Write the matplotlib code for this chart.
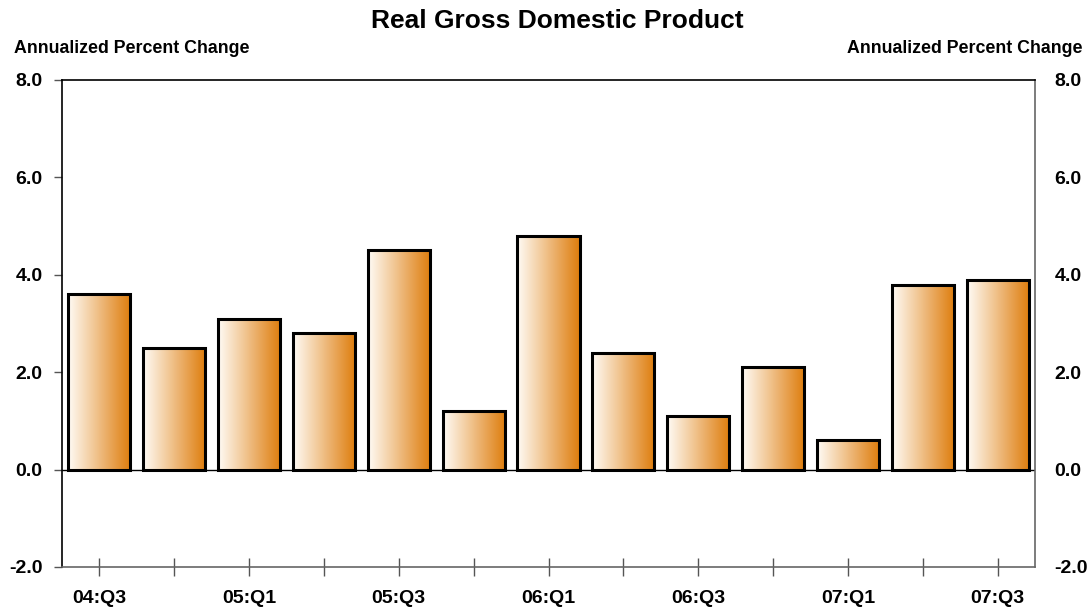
import numpy as np
import matplotlib
matplotlib.use("Agg")
import matplotlib.pyplot as plt
from matplotlib.colors import LinearSegmentedColormap

plt.rcParams['font.family'] = ['Liberation Sans', 'DejaVu Sans']
plt.rcParams['font.weight'] = 'bold'

quarters = ["04:Q3", "04:Q4", "05:Q1", "05:Q2", "05:Q3", "05:Q4", "06:Q1",
            "06:Q2", "06:Q3", "06:Q4", "07:Q1", "07:Q2", "07:Q3"]
gdp_change = [3.6, 2.5, 3.1, 2.8, 4.5, 1.2, 4.8, 2.4, 1.1, 2.1, 0.6, 3.8, 3.9]
y_ticks = [-2.0, 0.0, 2.0, 4.0, 6.0, 8.0]

fig = plt.figure(figsize=(10.91, 6.10), dpi=100)
ax = fig.add_axes([0.0568, 0.0705, 0.8919, 0.7984])

# white-to-orange horizontal fill for each bar
grad = LinearSegmentedColormap.from_list("orange", ["#FFFBF6", "#DE7D0C"])
ramp = np.linspace(0, 1, 256).reshape(1, -1)

x = np.arange(len(quarters))
width = 0.83
bars = ax.bar(x, gdp_change, width=width, facecolor="none", edgecolor="black",
              linewidth=2.2, zorder=3)
for b in bars:
    x0, y0 = b.get_x(), b.get_y()
    w, h = b.get_width(), b.get_height()
    ax.imshow(ramp, cmap=grad, aspect="auto", extent=(x0, x0 + w, y0, y0 + h),
              interpolation="bilinear", zorder=2)

ax.axhline(0, color="black", linewidth=1.0, zorder=1)

ax.set_xlim(-0.5, 12.5)
ax.set_ylim(-2, 8)
ax.set_yticks(y_ticks)
ax.set_yticklabels([f"{v:.1f}" for v in y_ticks], fontsize=14, fontweight="bold")
ax.set_xticks(x)
ax.set_xticklabels([q if i % 2 == 0 else "" for i, q in enumerate(quarters)],
                   fontsize=14, fontweight="bold")

ax.tick_params(axis="x", direction="inout", length=13, width=1, color="#555555", pad=10)
ax.tick_params(axis="y", direction="out", length=6, width=1, color="#555555", pad=8,
               right=False, labelright=True)

for side in ("left", "top"):
    ax.spines[side].set_color("black")
    ax.spines[side].set_linewidth(1.2)
for side in ("right", "bottom"):
    ax.spines[side].set_color("#666666")
    ax.spines[side].set_linewidth(1.2)

# right-hand labels without tick marks
for t in ax.yaxis.get_major_ticks():
    t.label2.set_visible(True)
    t.label2.set_fontsize(14)
    t.label2.set_fontweight("bold")
    t.tick2line.set_visible(False)

fig.text(0.5105, 0.966, "Real Gross Domestic Product", ha="center", va="center",
         fontsize=19, fontweight="bold")
fig.text(0.0128, 0.921, "Annualized Percent Change", ha="left", va="center",
         fontsize=12.8, fontweight="bold")
fig.text(0.992, 0.921, "Annualized Percent Change", ha="right", va="center",
         fontsize=12.8, fontweight="bold")

fig.savefig("out.png", dpi=100)
